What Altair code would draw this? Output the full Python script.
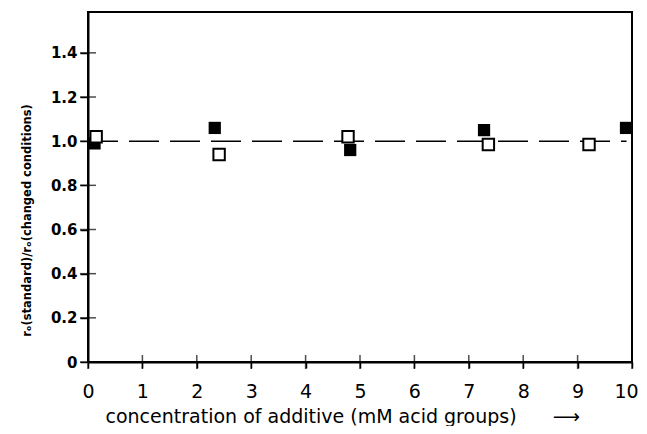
import altair as alt
import pandas as pd

# filled squares
filled_x = [0.12, 2.33, 4.82, 7.28, 9.89]
filled_y = [0.99, 1.06, 0.96, 1.05, 1.06]
# open squares
open_x = [0.15, 2.41, 4.78, 7.36, 9.21]
open_y = [1.02, 0.94, 1.02, 0.985, 0.985]

ref_x = [0.0, 9.9]
ref_y = [1.0, 1.0]

x_ticks = [0, 1, 2, 3, 4, 5, 6, 7, 8, 9, 10]
y_ticks = [0, 0.2, 0.4, 0.6, 0.8, 1.0, 1.2, 1.4]

XDOM = [0, 10]
YDOM = [0, 1.585]

df_f = pd.DataFrame({"x": filled_x, "y": filled_y})
df_o = pd.DataFrame({"x": open_x, "y": open_y})
df_ref = pd.DataFrame({"x": [ref_x[0]], "x2": [ref_x[1]], "y": [ref_y[0]]})
df_xt = pd.DataFrame({"x": x_ticks})
df_yt = pd.DataFrame({"y": y_ticks})

FONT = "DejaVu Sans"
NB = "\u00a0"

xscale = alt.Scale(domain=XDOM, nice=False, zero=False)
yscale = alt.Scale(domain=YDOM, nice=False, zero=False)

xaxis = alt.Axis(
    values=x_ticks, format="d", tickSize=6, tickWidth=1.5, tickColor="black",
    domainColor="black", domainWidth=2, grid=False,
    labelFont=FONT, labelFontSize=19, labelColor="black", labelPadding=14,
    labelOffset={"condition": {"test": "datum.value == 10", "value": -6}, "value": 0},
    title="concentration of additive (mM acid groups)" + NB * 6 + "\u27f6",
    titleFont=FONT, titleFontSize=19, titleFontWeight="normal", titleColor="black",
    titlePadding=6, labelFlush=False,
    titleAnchor="start", titleAlign="left", titleX=17,
)
yaxis = alt.Axis(
    values=y_ticks, tickSize=8, tickWidth=1.5, tickColor="black",
    domainColor="black", domainWidth=2, grid=False,
    labelExpr="datum.value == 0 ? '0' : format(datum.value, '.1f')",
    labelFont=FONT, labelFontSize=15, labelFontWeight="bold", labelColor="black", labelPadding=3,
    title="r\u2092(standard)/r\u2092(changed conditions)",
    titleFont=FONT, titleFontSize=11.5, titleFontWeight="bold", titleColor="black",
    titlePadding=18, titleY=208,
)

ref = alt.Chart(df_ref).mark_rule(color="black", strokeWidth=1.5, strokeDash=[30, 11]).encode(
    x=alt.X("x:Q", scale=xscale, axis=xaxis),
    x2="x2:Q",
    y=alt.Y("y:Q", scale=yscale, axis=yaxis),
)

xt = alt.Chart(df_xt).mark_tick(orient="vertical", size=14, thickness=1.5, color="black").encode(
    x="x:Q", y=alt.datum(0)
)
yt = alt.Chart(df_yt).mark_tick(orient="horizontal", size=16, thickness=1.5, color="black").encode(
    y="y:Q", x=alt.datum(0)
)

filled = alt.Chart(df_f).mark_point(shape="square", filled=True, size=150, color="black", opacity=1).encode(
    x="x:Q", y="y:Q"
)
opened = alt.Chart(df_o).mark_point(shape="square", filled=True, size=130, fill="white", stroke="black",
                                     strokeWidth=2, opacity=1).encode(
    x="x:Q", y="y:Q"
)

chart = alt.layer(ref, xt, yt, filled, opened).properties(
    width=544, height=350,
    background="white",
    autosize=alt.AutoSizeParams(type="none"),
    padding={"left": 80, "top": 4, "right": 7, "bottom": 64},
).configure_view(stroke="black", strokeWidth=2)

chart.save("out.html", embed_options={"renderer": "svg", "actions": False})
